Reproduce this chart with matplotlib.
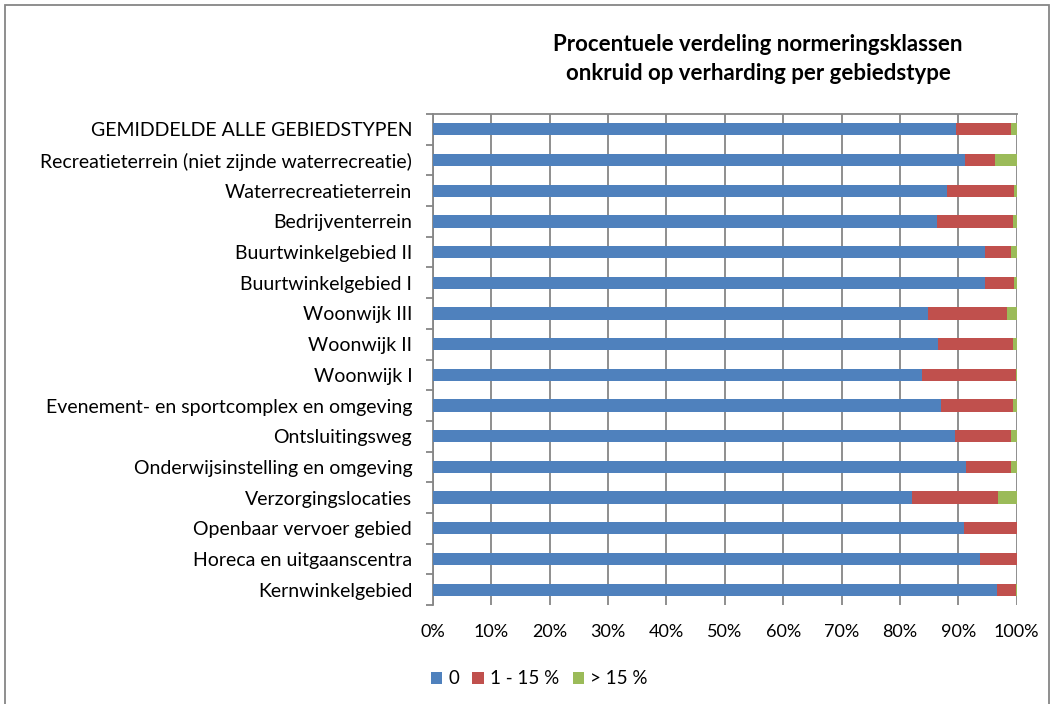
import matplotlib
matplotlib.use("Agg")
import matplotlib.pyplot as plt
from matplotlib.patches import Rectangle
import numpy as np

categories = [
    "GEMIDDELDE ALLE GEBIEDSTYPEN",
    "Recreatieterrein (niet zijnde waterrecreatie)",
    "Waterrecreatieterrein",
    "Bedrijventerrein",
    "Buurtwinkelgebied II",
    "Buurtwinkelgebied I",
    "Woonwijk III",
    "Woonwijk II",
    "Woonwijk I",
    "Evenement- en sportcomplex en omgeving",
    "Ontsluitingsweg",
    "Onderwijsinstelling en omgeving",
    "Verzorgingslocaties",
    "Openbaar vervoer gebied",
    "Horeca en uitgaanscentra",
    "Kernwinkelgebied",
]
val_0 = [89.6, 91.1, 88.1, 86.4, 94.5, 94.5, 84.8, 86.6, 83.7, 87.0, 89.5, 91.3, 82.0, 90.9, 93.7, 96.6]
val_1_15 = [9.5, 5.2, 11.4, 12.9, 4.6, 5.0, 13.6, 12.7, 16.1, 12.3, 9.5, 7.7, 14.8, 9.1, 6.3, 3.2]
val_gt15 = [0.9, 3.7, 0.5, 0.7, 0.9, 0.5, 1.6, 0.7, 0.2, 0.7, 1.0, 1.0, 3.2, 0.0, 0.0, 0.2]
series_names = ["0", "1 - 15 %", "> 15 %"]
colors = ["#4F81BD", "#C0504D", "#9BBB59"]
xticks = [0, 10, 20, 30, 40, 50, 60, 70, 80, 90, 100]

plt.rcParams['font.family'] = ['Lato', 'DejaVu Sans']

fig = plt.figure(figsize=(10.53, 7.04), dpi=100)
fig.patch.set_facecolor("white")
fig.patches.append(Rectangle((5/1053, -0.05), 1044/1053, 1.05 - 5/704,
                             transform=fig.transFigure, fill=False,
                             edgecolor="#868686", linewidth=1.3))

ax = fig.add_axes([433/1053, 1 - 605/704, (1016.7 - 433)/1053, (605 - 114)/704])
y = np.arange(len(categories))
left = np.zeros(len(categories))
for vals, name, col in zip([val_0, val_1_15, val_gt15], series_names, colors):
    vals = np.array(vals)
    ax.barh(y, vals, left=left, height=0.4, color=col, label=name, zorder=3)
    left = left + vals

ax.set_ylim(len(categories) - 0.5, -0.5)
ax.set_xlim(0, 100)
ax.set_xticks(xticks)
ax.set_xticklabels([f"{t}%" for t in xticks], fontsize=13, color="#000000")
ax.set_yticks(y)
ax.set_yticklabels(categories, fontsize=14, color="#000000")
ax.set_yticks(np.arange(-0.5, len(categories), 1), minor=True)
ax.tick_params(axis="y", which="major", length=0, pad=15)
ax.tick_params(axis="y", which="minor", length=5, color="#868686", width=1.3)
ax.tick_params(axis="x", length=0, pad=14)
ax.grid(axis="x", color="#868686", linewidth=1.3, zorder=0)
for s in ["right", "bottom"]:
    ax.spines[s].set_visible(False)
for s in ["left", "top"]:
    ax.spines[s].set_color("#868686")
    ax.spines[s].set_linewidth(1.3)

fig.text(758/1053, 1 - 59/704, "Procentuele verdeling normeringsklassen\nonkruid op verharding per gebiedstype",
         ha="center", va="center", fontsize=16, fontweight="bold", linespacing=1.45)

leg = fig.legend(loc="center left", bbox_to_anchor=(423/1053, 1 - 679/704), ncol=3,
                 frameon=False, fontsize=13.5, handlelength=0.6, handleheight=0.6,
                 handletextpad=0.35, columnspacing=0.7, borderaxespad=0)

fig.savefig("out.png", dpi=100, facecolor="white")
